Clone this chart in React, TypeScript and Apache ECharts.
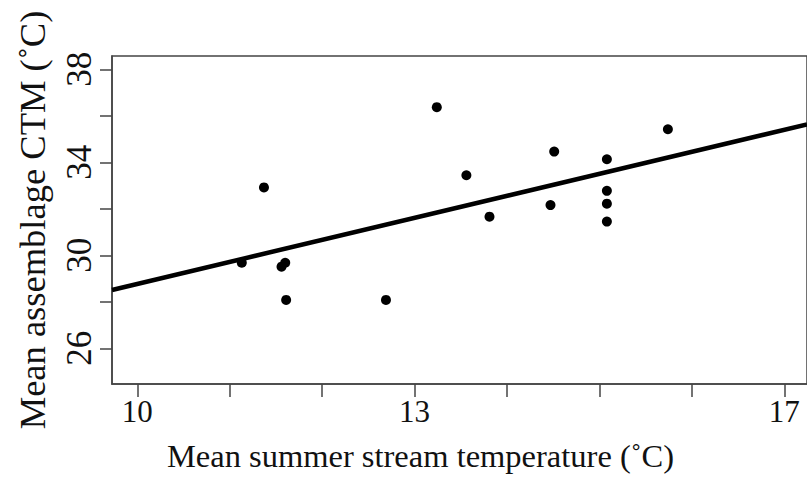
import React, { useEffect, useRef } from "react";
import * as echarts from "echarts";

// Mean summer stream temperature (°C)
const tempX: number[] = [
  11.13, 11.37, 11.56, 11.6, 11.61, 12.69, 13.24, 13.56, 13.81, 14.47, 14.51,
  15.08, 15.08, 15.08, 15.08, 15.74,
];
// Mean assemblage CTM (°C)
const ctmY: number[] = [
  29.68, 32.92, 29.51, 29.68, 28.08, 28.08, 36.37, 33.44, 31.66, 32.16, 34.46,
  34.13, 32.77, 32.22, 31.45, 35.42,
];
// Fitted regression line endpoints
const fitX: number[] = [9.726, 17.245];
const fitY: number[] = [28.51, 35.63];

const xTicks: number[] = [10, 11, 12, 13, 14, 15, 16, 17];
const xTickLabels: number[] = [10, 13, 17];
const yTicks: number[] = [26, 28, 30, 32, 34, 36, 38];
const yTickLabels: number[] = [26, 30, 34, 38];

const xRange: number[] = [9.726, 17.245];
const yRange: number[] = [24.465, 38.57];

export default function App() {
  const ref = useRef<HTMLDivElement>(null);
  useEffect(() => {
    if (!ref.current) return;
    const chart = echarts.init(ref.current, null, { renderer: "svg" });
    const font = "'Liberation Serif', 'Times New Roman', serif";
    const axisColor = "#444";
    chart.setOption({
      animation: false,
      backgroundColor: "#fff",
      grid: {
        left: 112,
        top: 56,
        right: -3,
        bottom: 99,
        show: true,
        borderColor: axisColor,
        borderWidth: 1.5,
        containLabel: false,
      },
      xAxis: {
        type: "value",
        min: xRange[0],
        max: xRange[1],
        name: "Mean summer stream temperature (˚C)",
        nameLocation: "middle",
        nameGap: 55,
        nameTextStyle: {
          fontFamily: font,
          fontSize: 32.5,
          color: "#111",
          padding: [0, 78, 0, 0],
        },
        axisLine: { show: true, lineStyle: { color: axisColor, width: 1.5 } },
        axisTick: {
          show: true,
          inside: false,
          length: 13,
          customValues: xTicks,
          lineStyle: { color: axisColor, width: 1.5 },
        },
        axisLabel: {
          customValues: xTickLabels,
          margin: 12,
          fontFamily: font,
          fontSize: 31,
          color: "#111",
        },
        splitLine: { show: false },
      },
      yAxis: {
        type: "value",
        min: yRange[0],
        max: yRange[1],
        name: "Mean assemblage CTM (˚C)",
        nameLocation: "middle",
        nameGap: 61,
        nameTextStyle: { fontFamily: font, fontSize: 36.5, color: "#111" },
        axisLine: { show: true, lineStyle: { color: axisColor, width: 1.5 } },
        axisTick: {
          show: true,
          inside: false,
          length: 12,
          customValues: yTicks,
          lineStyle: { color: axisColor, width: 1.5 },
        },
        axisLabel: {
          customValues: yTickLabels,
          rotate: 90,
          margin: 15,
          fontFamily: font,
          fontSize: 35,
          color: "#111",
        },
        splitLine: { show: false },
      },
      series: [
        {
          type: "line",
          data: fitX.map((x, i) => [x, fitY[i]]),
          showSymbol: false,
          symbol: "none",
          lineStyle: { color: "#000", width: 4.5 },
          z: 2,
        },
        {
          type: "scatter",
          data: tempX.map((x, i) => [x, ctmY[i]]),
          symbol: "circle",
          symbolSize: 10,
          itemStyle: { color: "#000", opacity: 1 },
          z: 3,
        },
      ],
    });
    return () => chart.dispose();
  }, []);
  return (
    <div
      ref={ref}
      style={{ position: "fixed", left: 0, top: 0, width: 807, height: 483 }}
    />
  );
}
